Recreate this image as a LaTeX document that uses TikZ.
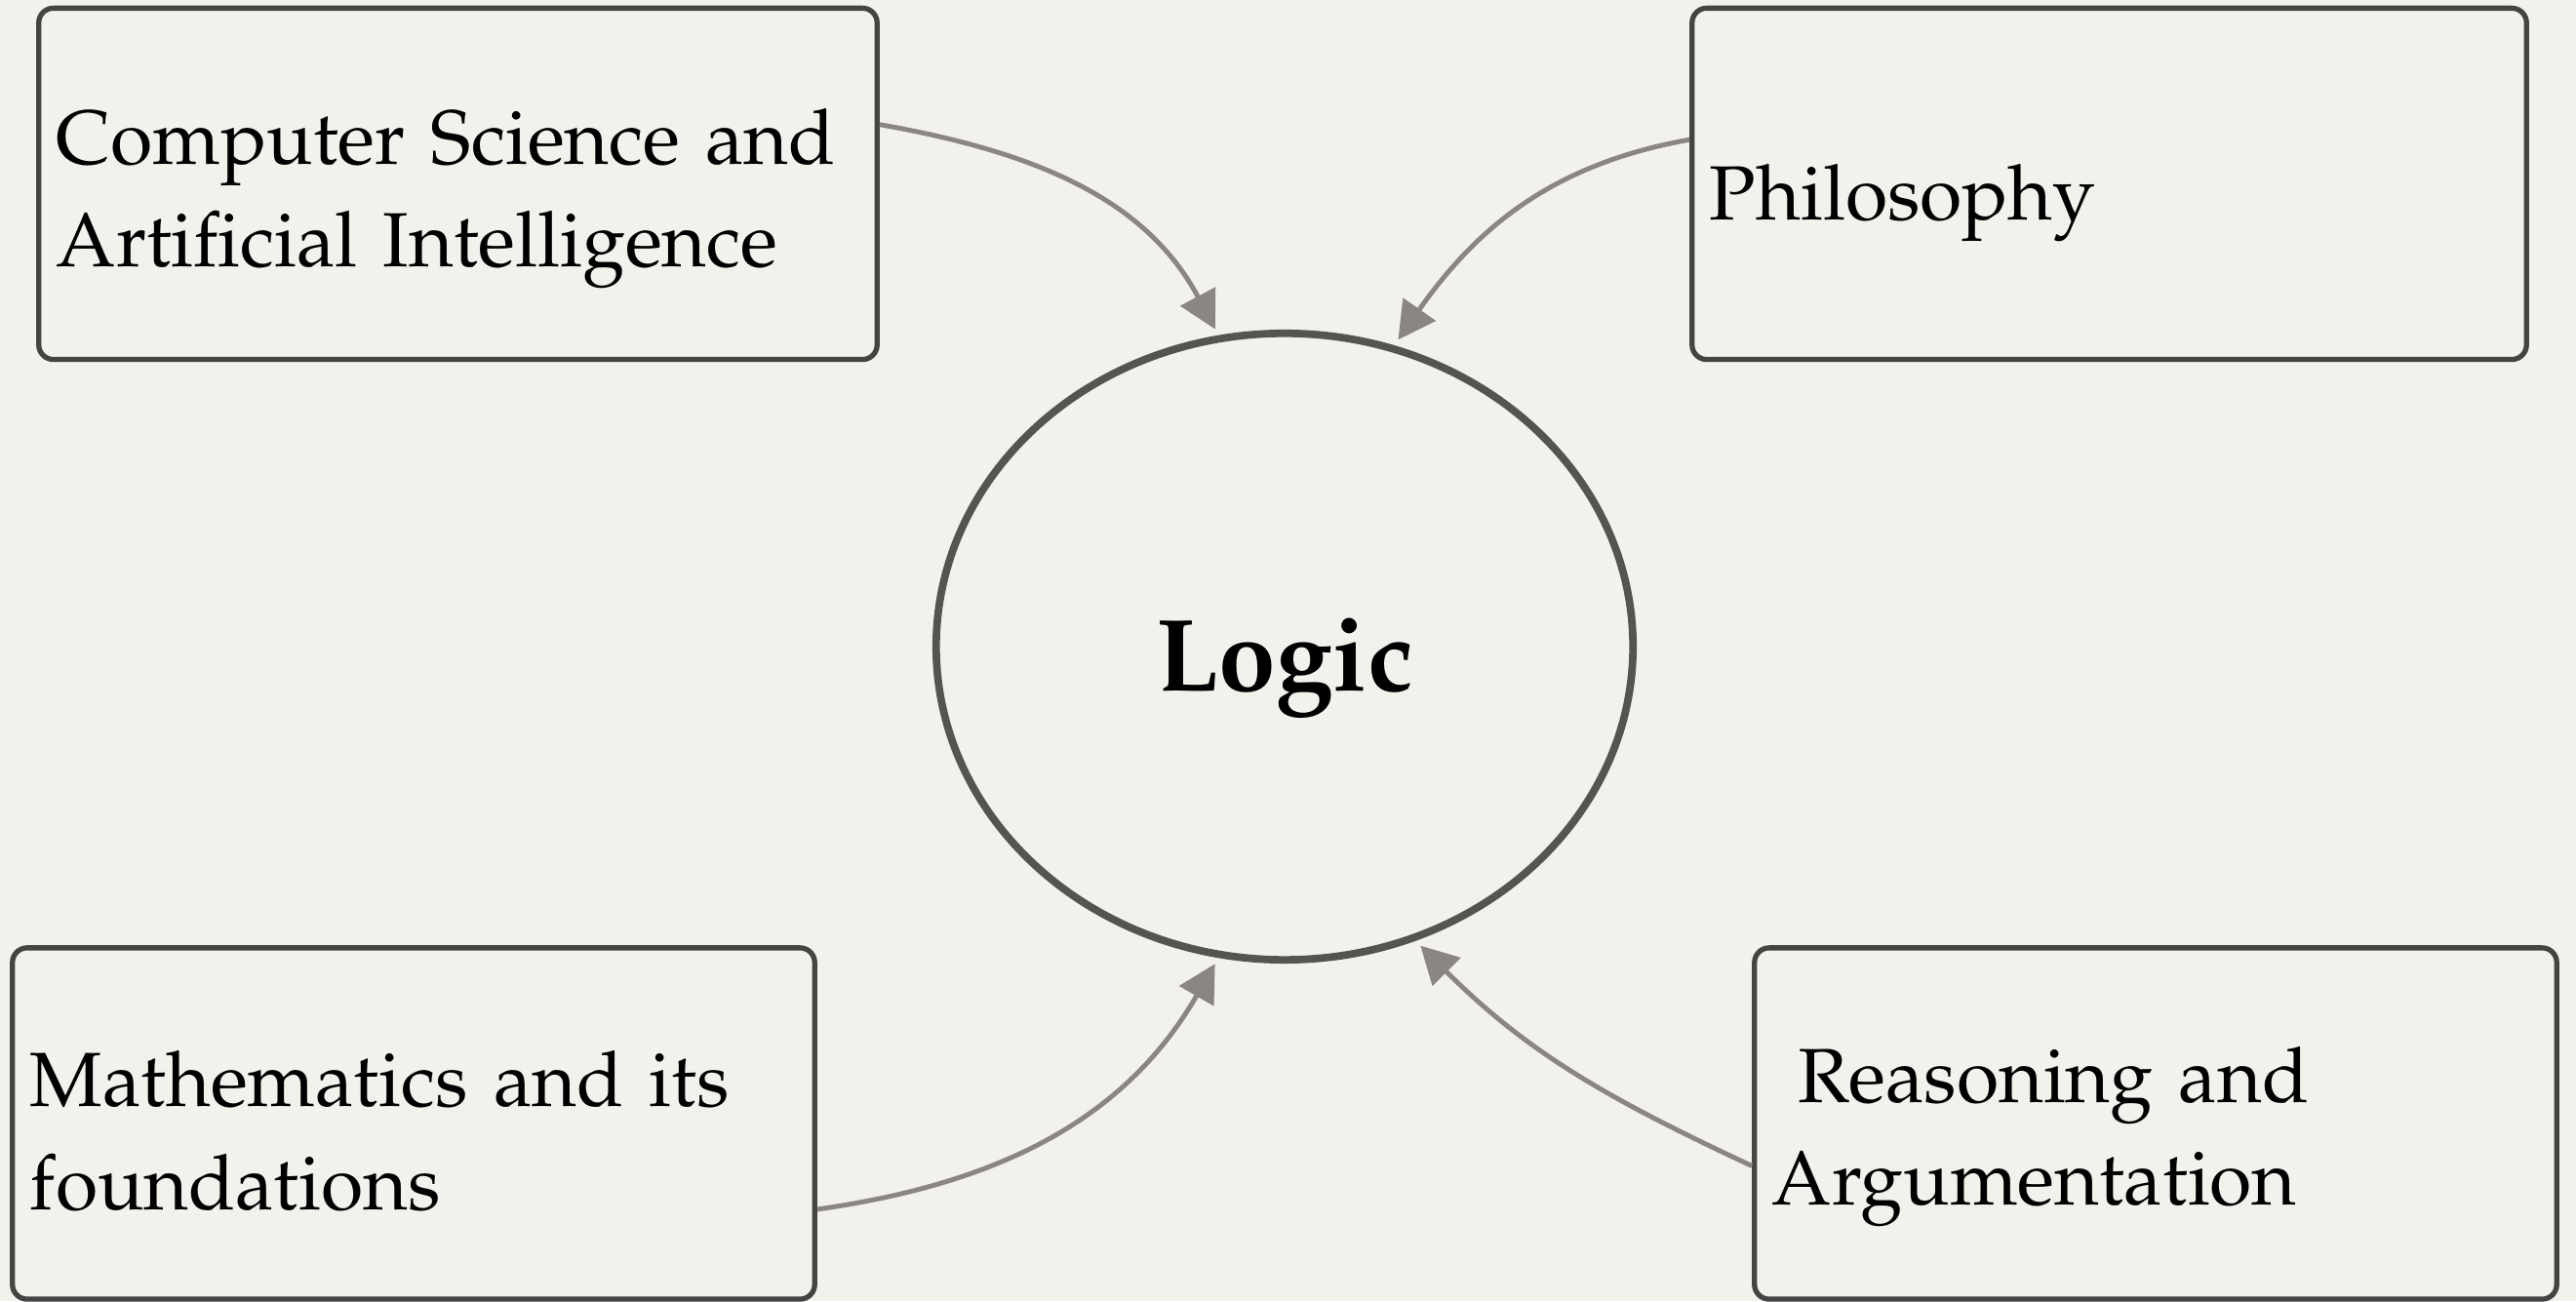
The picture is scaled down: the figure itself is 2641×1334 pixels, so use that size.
\documentclass[tikz,border=0pt]{standalone}
\usepackage[T1]{fontenc}
\usepackage{mathpazo}
\usetikzlibrary{shapes.geometric,arrows.meta}
\definecolor{paper}{HTML}{F3F1EC}
\definecolor{boxline}{HTML}{444442}
\definecolor{ringline}{HTML}{555450}
\definecolor{arrowgray}{HTML}{8A8782}
\begin{document}
\begin{tikzpicture}[x=0.01cm,y=0.01cm,
% common options for the four field boxes (argument: strut that lowers the text):
field/.style = {draw=boxline, line width=1.5pt, rounded corners=0.15cm, align=left,
            inner sep=0.18cm, minimum height=3.6cm, font=\fontsize{22.4}{30}\selectfont,
            execute at begin node={\rule{0pt}{#1}}},
% common options for the links into logic:
link/.style = {draw=arrowgray, line width=1.4pt, shorten >=2pt,
            -{Triangle[length=0.38cm,width=0.4cm]}}]
\fill[paper] (0,0) rectangle (2641,1334);
\node[ellipse, draw=ringline, line width=2.2pt, minimum width=7.14cm, minimum height=6.42cm,
      text height=0.9cm, text depth=0pt, font=\fontsize{30}{36}\selectfont\bfseries] (logic) at (1317,671) {Logic};
\node[field=0.87cm, text width=8.23cm] (cs) at (469.5,1145.5) {Computer Science and\\Artificial Intelligence};
\node[field=0.97cm, text width=8.19cm] (phil) at (2162.5,1145.5) {Philosophy};
\node[field=0.73cm, text width=7.86cm] (math) at (424,182) {Mathematics and its\\foundations};
\node[field=0.84cm, text width=7.86cm] (reason) at (2210,182) {~Reasoning and\\Argumentation};
\draw[link] (cs.8) to[out=-10,in=118] (logic.102);
\draw[link] (phil.174) to[out=190,in=55] (logic.70);
\draw[link] (math.-12) to[out=8,in=-120] (logic.-102);
\draw[link] (reason.186) to[out=155,in=-45] (logic.-66);
\end{tikzpicture}
\end{document}
